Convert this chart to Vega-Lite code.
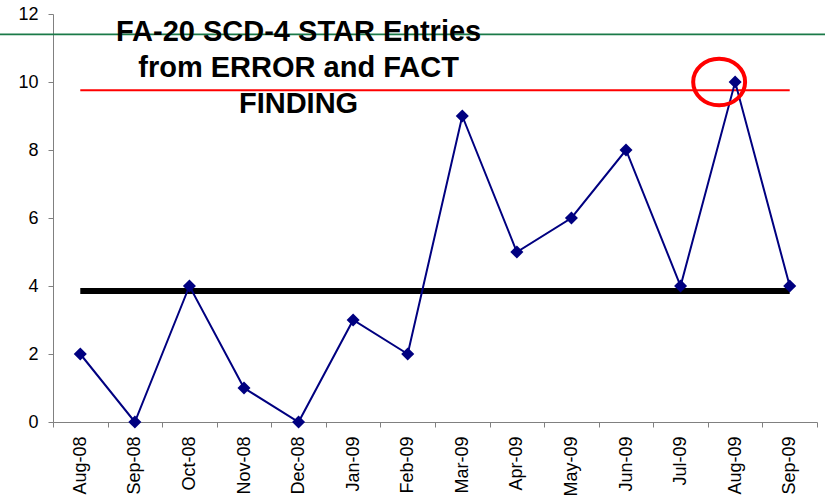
{
  "$schema": "https://vega.github.io/schema/vega-lite/v6.json",
  "width": 764,
  "height": 408,
  "autosize": {"type": "none"},
  "padding": {"left": 53, "top": 14, "right": 8, "bottom": 79},
  "background": "white",
  "config": {"view": {"stroke": null}, "font": "Liberation Sans"},
  "datasets": {
    "series": [
      {"month": "Aug-08", "count": 2},
      {"month": "Sep-08", "count": 0},
      {"month": "Oct-08", "count": 4},
      {"month": "Nov-08", "count": 1},
      {"month": "Dec-08", "count": 0},
      {"month": "Jan-09", "count": 3},
      {"month": "Feb-09", "count": 2},
      {"month": "Mar-09", "count": 9},
      {"month": "Apr-09", "count": 5},
      {"month": "May-09", "count": 6},
      {"month": "Jun-09", "count": 8},
      {"month": "Jul-09", "count": 4},
      {"month": "Aug-09", "count": 10},
      {"month": "Sep-09", "count": 4}
    ],
    "refs": [
      {"name": "limit", "start": "Aug-08", "end": "Sep-09", "level": 9.76},
      {"name": "mean", "start": "Aug-08", "end": "Sep-09", "level": 3.85}
    ]
  },
  "layer": [
    {
      "data": {"values": [{"g0": -0.07, "g1": 1.02, "gy": 11.4}]},
      "mark": {"type": "rule", "color": "#1a7a48", "strokeWidth": 1.8},
      "encoding": {
        "x": {"field": "g0", "type": "quantitative", "scale": {"domain": [0, 1]}, "axis": null},
        "x2": {"field": "g1"},
        "y": {"field": "gy", "type": "quantitative"}
      }
    },
    {
      "layer": [
        {
          "data": {"name": "refs"},
          "transform": [{"filter": "datum.name === 'limit'"}],
          "mark": {"type": "rule", "color": "#ff0000", "strokeWidth": 2},
          "encoding": {
            "x": {"field": "start", "type": "nominal"},
            "x2": {"field": "end"},
            "y": {"field": "level", "type": "quantitative"}
          }
        },
        {
          "data": {"name": "refs"},
          "transform": [{"filter": "datum.name === 'mean'"}],
          "mark": {"type": "rule", "color": "#000000", "strokeWidth": 6},
          "encoding": {
            "x": {"field": "start", "type": "nominal"},
            "x2": {"field": "end"},
            "y": {"field": "level", "type": "quantitative"}
          }
        },
        {
          "data": {"name": "series"},
          "mark": {"type": "line", "color": "#000080", "strokeWidth": 2},
          "encoding": {
            "x": {"field": "month", "type": "nominal"},
            "y": {"field": "count", "type": "quantitative"}
          }
        },
        {
          "data": {"name": "series"},
          "mark": {"type": "point", "shape": "diamond", "filled": true, "color": "#000080", "size": 170, "opacity": 1},
          "encoding": {
            "x": {"field": "month", "type": "nominal"},
            "y": {"field": "count", "type": "quantitative"}
          }
        },
        {
          "data": {"name": "series"},
          "transform": [{"filter": "datum.month === 'Aug-09'"}],
          "mark": {"type": "point", "shape": "M-1.06,0A1.06,0.95,0,1,0,1.06,0A1.06,0.95,0,1,0,-1.06,0Z", "filled": false, "stroke": "#ff0000", "strokeWidth": 4, "size": 2400, "opacity": 1, "xOffset": -16},
          "encoding": {
            "x": {"field": "month", "type": "nominal"},
            "y": {"field": "count", "type": "quantitative"}
          }
        },
        {
          "data": {"values": [{"month": "Dec-08", "ty": 11.2, "label": "FA-20 SCD-4 STAR Entries\nfrom ERROR and FACT\nFINDING"}]},
          "mark": {"type": "text", "lineBreak": "\n", "fontSize": 29, "fontWeight": "bold", "align": "center", "baseline": "alphabetic", "lineHeight": 36, "color": "#000000", "font": "Liberation Sans"},
          "encoding": {
            "x": {"field": "month", "type": "nominal"},
            "y": {"field": "ty", "type": "quantitative"},
            "text": {"field": "label"}
          }
        }
      ],
      "encoding": {
        "x": {
          "scale": {"domain": ["Aug-08", "Sep-08", "Oct-08", "Nov-08", "Dec-08", "Jan-09", "Feb-09", "Mar-09", "Apr-09", "May-09", "Jun-09", "Jul-09", "Aug-09", "Sep-09"], "paddingInner": 0, "paddingOuter": 0},
          "axis": {"title": null, "labelAngle": -90, "labelFontSize": 18, "labelColor": "#000000", "labelPadding": 9, "domainColor": "#808080", "tickColor": "#808080", "tickSize": 5, "tickBand": "extent", "labelFont": "Liberation Sans"}
        },
        "y": {
          "scale": {"domain": [0, 12], "nice": false, "zero": true},
          "axis": {"title": null, "values": [0, 2, 4, 6, 8, 10, 12], "grid": false, "labelFontSize": 18, "labelColor": "#000000", "labelPadding": 10, "domainColor": "#808080", "tickColor": "#808080", "tickSize": 5, "labelFont": "Liberation Sans"}
        }
      }
    }
  ],
  "resolve": {"scale": {"x": "independent"}}
}
